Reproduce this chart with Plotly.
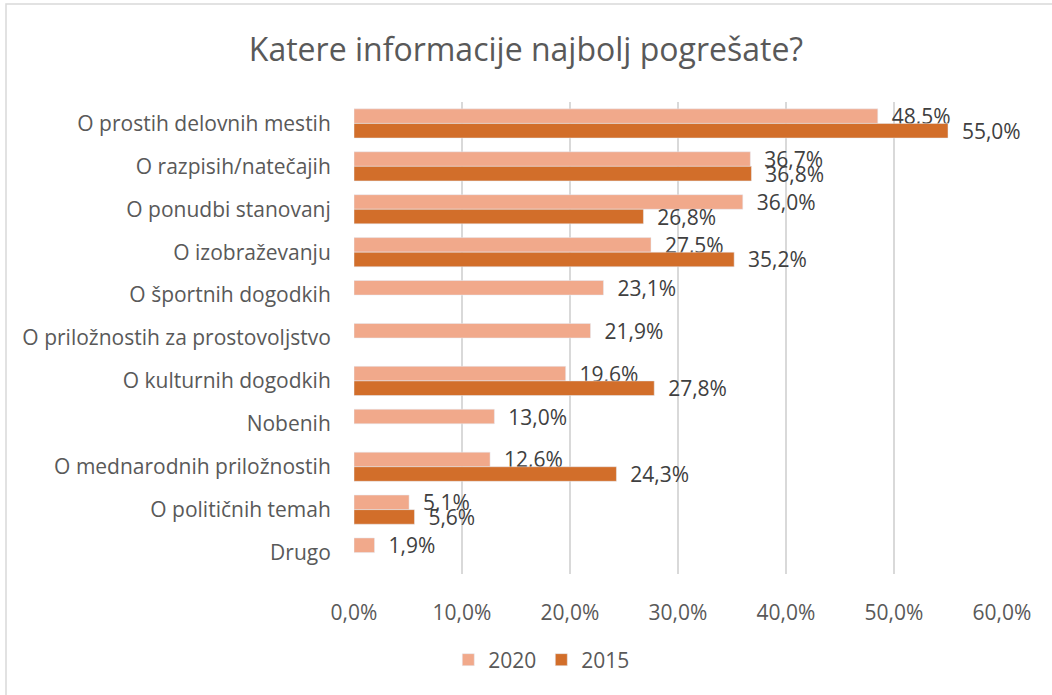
import plotly.graph_objects as go

categories = [
    "O prostih delovnih mestih",
    "O razpisih/natečajih",
    "O ponudbi stanovanj",
    "O izobraževanju",
    "O športnih dogodkih",
    "O priložnostih za prostovoljstvo",
    "O kulturnih dogodkih",
    "Nobenih",
    "O mednarodnih priložnostih",
    "O političnih temah",
    "Drugo",
]
values_2020 = [48.5, 36.7, 36.0, 27.5, 23.1, 21.9, 19.6, 13.0, 12.6, 5.1, 1.9]
values_2015 = [55.0, 36.8, 26.8, 35.2, None, None, 27.8, None, 24.3, 5.6, None]
tick_values = [0, 10, 20, 30, 40, 50, 60]
tick_labels = ["0,0%", "10,0%", "20,0%", "30,0%", "40,0%", "50,0%", "60,0%"]


def fmt(v):
    return "" if v is None else "\u00a0\u00a0" + f"{v:.1f}%".replace(".", ",")


FONT = "Open Sans"
W, H = 1052, 695
L, R, T, B = 354, 50, 102, 121
pw, ph = W - L - R, H - T - B

fig = go.Figure()
fig.add_trace(go.Bar(
    name="2020", y=categories, x=values_2020, orientation="h",
    marker=dict(color="#F1A98B"),
    text=[fmt(v) for v in values_2020], textposition="outside",
    textfont=dict(family=FONT, size=21, color="#404040"),
    cliponaxis=False, constraintext="none",
))
fig.add_trace(go.Bar(
    name="2015", y=categories, x=values_2015, orientation="h",
    marker=dict(color="#D26E2A"),
    text=[fmt(v) for v in values_2015], textposition="outside",
    textfont=dict(family=FONT, size=21, color="#404040"),
    cliponaxis=False, constraintext="none",
))

fig.update_layout(
    width=W, height=H,
    margin=dict(l=L, r=R, t=T, b=B, autoexpand=False),
    paper_bgcolor="white", plot_bgcolor="white",
    barmode="group", bargap=0.32, bargroupgap=0,
    title=dict(text="Katere informacije najbolj pogrešate?", x=0.5, xanchor="center",
               y=1 - 50 / H, yanchor="middle",
               font=dict(family=FONT, size=32, color="#595959")),
    font=dict(family=FONT, color="#595959"),
    legend=dict(orientation="h", x=0.515, xref="container", xanchor="center",
                y=-(660 - (T + ph)) / ph, yanchor="middle",
                font=dict(family=FONT, size=21, color="#595959"),
                itemwidth=30, traceorder="normal"),
    showlegend=True,
)
fig.update_xaxes(
    range=[0, 60], tickvals=tick_values, ticktext=tick_labels,
    showgrid=True, gridcolor="#D9D9D9", gridwidth=2, zeroline=False,
    showline=False, ticks="outside", ticklen=20, tickcolor="rgba(0,0,0,0)",
    tickfont=dict(family=FONT, size=21, color="#595959"), fixedrange=True,
)
fig.update_yaxes(
    autorange="reversed", showgrid=False, zeroline=False, showline=False,
    ticks="outside", ticklen=18, tickcolor="rgba(0,0,0,0)",
    tickfont=dict(family=FONT, size=21, color="#595959"),
)

# outer chart border
fig.add_shape(type="rect", xref="paper", yref="paper",
              x0=(6 - L) / pw, x1=(1060 - L) / pw,
              y0=-(705 - (T + ph)) / ph, y1=(T + ph - 4) / ph,
              line=dict(color="#D9D9D9", width=1.5), fillcolor="rgba(0,0,0,0)",
              layer="below")

fig.write_html("out.html", config={"displayModeBar": False},
               post_script="document.body.style.margin='0';document.body.style.overflow='hidden';")
